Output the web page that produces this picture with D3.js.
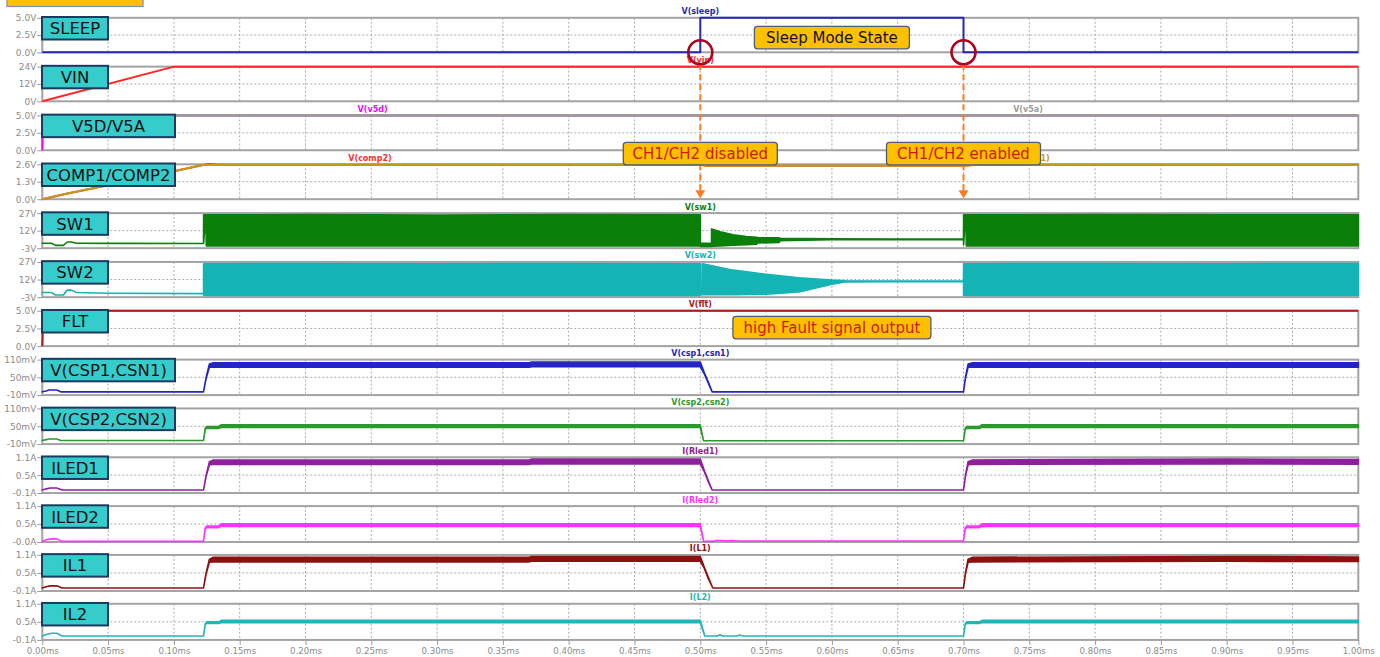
<!DOCTYPE html>
<html>
<head>
<meta charset="utf-8">
<script src="https://cdn.jsdelivr.net/npm/d3@7"></script>
<style>
  html, body { margin: 0; padding: 0; background: #fff; }
  svg { display: block; }
</style>
</head>
<body>
<svg id="chart" width="1380" height="657"></svg>
<script>
// ---- time axis (ms) ----
const timeTicks = [0, 0.05, 0.10, 0.15, 0.20, 0.25, 0.30, 0.35, 0.40, 0.45, 0.50,
                   0.55, 0.60, 0.65, 0.70, 0.75, 0.80, 0.85, 0.90, 0.95, 1.00];
const timeLabels = ["0.00ms", "0.05ms", "0.10ms", "0.15ms", "0.20ms", "0.25ms", "0.30ms",
                    "0.35ms", "0.40ms", "0.45ms", "0.50ms", "0.55ms", "0.60ms", "0.65ms",
                    "0.70ms", "0.75ms", "0.80ms", "0.85ms", "0.90ms", "0.95ms", "1.00ms"];

// ---- panes ----
const panelNames = ["SLEEP", "VIN", "V5D/V5A", "COMP1/COMP2", "SW1", "SW2", "FLT",
                    "V(CSP1,CSN1)", "V(CSP2,CSN2)", "ILED1", "ILED2", "IL1", "IL2"];
const panelDomains = [[0, 5], [0, 24], [0, 5], [0, 2.6], [-3, 27], [-3, 27], [0, 5],
                      [-10, 110], [-10, 110], [-0.1, 1.1], [-0.05, 1.1], [-0.1, 1.1], [-0.1, 1.1]];
const panelTickLabels = [
  ["5.0V", "2.5V", "0.0V"], ["24V", "12V", "0V"], ["5.0V", "2.5V", "0.0V"],
  ["2.6V", "1.3V", "0.0V"], ["27V", "12V", "-3V"], ["27V", "12V", "-3V"],
  ["5.0V", "2.5V", "0.0V"], ["110mV", "50mV", "-10mV"], ["110mV", "50mV", "-10mV"],
  ["1.1A", "0.5A", "-0.1A"], ["1.1A", "0.5A", "-0.0A"], ["1.1A", "0.5A", "-0.1A"],
  ["1.1A", "0.5A", "-0.1A"]
];

// ---- waveforms (time in ms) ----
const sleepT = [0, 0.5, 0.5, 0.7, 0.7, 1.0];
const sleepV = [0, 0, 5, 5, 0, 0];

const vinT = [0, 0.1, 1.0];
const vinV = [0, 24, 24];

const v5dT = [0, 0.0006, 1.0];
const v5dV = [0, 5, 5];
const v5aT = [0.001, 1.0];
const v5aV = [5, 5];

const comp2T = [0, 0.02, 0.05, 0.08, 0.1, 0.122, 0.126, 0.135, 0.5, 0.505, 0.69, 0.7, 0.71, 1.0];
const comp2V = [0, 0.45, 1.04, 1.65, 2.08, 2.55, 2.62, 2.57, 2.57, 2.49, 2.49, 2.5, 2.57, 2.57];
const comp1T = [0, 0.02, 0.05, 0.08, 0.1, 0.122, 0.13, 0.5, 0.505, 0.69, 0.7, 0.71, 1.0];
const comp1V = [0, 0.45, 1.04, 1.65, 2.08, 2.55, 2.57, 2.57, 2.49, 2.49, 2.5, 2.57, 2.57];

// switching nodes: upper / lower envelope of the switching waveform
const sw1T  = [0, 0.007, 0.010, 0.016, 0.019, 0.022, 0.026, 0.05, 0.1225, 0.1226, 0.1232, 0.1245, 0.1246,
               0.2, 0.3, 0.4, 0.5, 0.5001, 0.5085, 0.5086, 0.515, 0.525, 0.535, 0.543, 0.5435, 0.56,
               0.5605, 0.58, 0.6, 0.65, 0.7, 0.7001, 0.7008, 0.702, 0.7021, 0.8, 0.9, 1.0];
const sw1Hi = [1.2, 1.2, -0.6, -0.6, 2.3, 2.3, 1.2, 1.1, 1.0, 25.5, 25.5, 25.5, 25.5,
               25.8, 25.4, 25.8, 25.6, 1.2, 1.2, 13.5, 11, 8.4, 7, 6.4, 6, 5.8,
               5.4, 5.2, 5.0, 4.9, 4.8, 25.5, 25.5, 25.5, 25.5, 25.8, 25.5, 25.6];
const sw1Lo = [1.2, 1.2, -0.6, -0.6, 2.3, 2.3, 1.2, 1.1, 1.0, 1.0, 10, 10, -1,
               -1, -1, -1, -1, -1.5, -1.5, -1.2, -1, -0.5, 0, 0.5, 1.5, 1.8,
               3.4, 3.9, 4.2, 4.3, 4.3, 0, 12, 12, -1, -1, -1, -1];

const sw2T  = [0, 0.007, 0.010, 0.016, 0.019, 0.022, 0.026, 0.05, 0.1225, 0.1226, 0.2, 0.3, 0.4, 0.5,
               0.5004, 0.5005, 0.5017, 0.5018, 0.525, 0.55, 0.575, 0.6, 0.61, 0.65, 0.7, 0.7001,
               0.8, 0.9, 1.0];
const sw2Hi = [0.9, 0.9, -1.2, -1.2, 3.0, 3.0, 0.9, 0.3, 0.0, 25.5, 25.7, 25.4, 25.7, 25.5,
               25.5, 0.5, 0.5, 25.5, 20, 16.5, 13.5, 11.5, 11, 10.8, 10.8, 25.5,
               25.7, 25.5, 25.6];
const sw2Lo = [0.9, 0.9, -1.2, -1.2, 3.0, 3.0, 0.9, 0.3, 0.0, -1.5, -1.5, -1.5, -1.5, -1.5,
               -1.5, 0, 0, -1, -1, -0.5, 1.5, 8, 10, 10.2, 10.2, -1.5,
               -1.5, -1.5, -1.5];

const fltT = [0, 0.0008, 1.0];
const fltV = [0, 5, 5];

// current-sense voltages (mV), ripple band
const cs1T  = [0, 0.003, 0.005, 0.011, 0.014, 0.1225, 0.1245, 0.127, 0.13, 0.37, 0.372, 0.5,
               0.503, 0.506, 0.509, 0.7, 0.7015, 0.7035, 0.707, 1.0];
const cs1Hi = [1, 4, 7, 7, 1, 1, 50, 95, 99, 99, 102, 102, 66, 35, 1, 1, 50, 95, 99, 99];
const cs1Lo = [1, 4, 7, 7, 1, 1, 47, 85, 84, 84, 86, 86, 62, 31, 1, 1, 47, 85, 84, 84];

const cs2T  = [0, 0.003, 0.005, 0.011, 0.014, 0.1225, 0.1238, 0.125, 0.134, 0.136, 0.5,
               0.5025, 0.7, 0.7013, 0.7025, 0.712, 0.714, 1.0];
const cs2Hi = [2, 5, 7, 7, 2, 2, 44, 49, 49, 55, 55, 1, 1, 44, 49, 49, 55, 55];
const cs2Lo = [2, 5, 7, 7, 2, 2, 40, 43, 43, 46, 46, 1, 1, 40, 43, 43, 46, 46];

// LED and inductor currents (A), ripple band
const led1T  = [0, 0.003, 0.006, 0.011, 0.015, 0.1225, 0.1245, 0.127, 0.13, 0.37, 0.372, 0.5,
                0.503, 0.506, 0.509, 0.7, 0.7015, 0.7035, 0.707, 0.9, 1.0];
const led1Hi = [0, 0.04, 0.07, 0.07, 0, 0, 0.5, 0.95, 1.01, 1.01, 1.04, 1.04,
                0.66, 0.33, 0, 0, 0.5, 0.95, 1.01, 1.04, 1.02];
const led1Lo = [0, 0.04, 0.07, 0.07, 0, 0, 0.47, 0.85, 0.86, 0.86, 0.88, 0.88,
                0.62, 0.29, 0, 0, 0.47, 0.85, 0.86, 0.88, 0.87];

const led2T  = [0, 0.003, 0.007, 0.011, 0.015, 0.1225, 0.1238, 0.125, 0.134, 0.136, 0.5,
                0.5025, 0.51, 0.512, 0.516, 0.52, 0.524, 0.53, 0.6, 0.7,
                0.7013, 0.7025, 0.712, 0.714, 1.0];
const led2Hi = [-0.03, 0.02, 0.05, 0.05, -0.03, -0.03, 0.4, 0.46, 0.46, 0.53, 0.53,
                -0.03, -0.03, 0.0, 0.0, -0.02, 0.0, -0.02, -0.02, -0.02,
                0.4, 0.46, 0.46, 0.53, 0.53];
const led2Lo = [-0.03, 0.02, 0.05, 0.05, -0.03, -0.03, 0.36, 0.41, 0.41, 0.45, 0.45,
                -0.03, -0.03, 0.0, 0.0, -0.02, 0.0, -0.02, -0.02, -0.02,
                0.36, 0.41, 0.41, 0.45, 0.45];

const il1T  = [0, 0.003, 0.006, 0.011, 0.015, 0.1225, 0.1245, 0.127, 0.13, 0.37, 0.372, 0.5,
               0.503, 0.506, 0.5095, 0.7, 0.7015, 0.7035, 0.707, 0.9, 1.0];
const il1Hi = [0, 0.04, 0.07, 0.07, 0, 0, 0.5, 0.96, 1.02, 1.02, 1.05, 1.05,
               0.7, 0.36, 0, 0, 0.5, 0.96, 1.02, 1.05, 1.03];
const il1Lo = [0, 0.04, 0.07, 0.07, 0, 0, 0.47, 0.86, 0.87, 0.87, 0.89, 0.89,
               0.66, 0.32, 0, 0, 0.47, 0.86, 0.87, 0.89, 0.88];

const il2T  = [0, 0.003, 0.007, 0.011, 0.015, 0.1225, 0.1238, 0.125, 0.134, 0.136, 0.5,
               0.5034, 0.513, 0.515, 0.517, 0.528, 0.53, 0.532, 0.7,
               0.7013, 0.7025, 0.712, 0.714, 1.0];
const il2Hi = [0.03, 0.08, 0.12, 0.12, 0.03, 0.03, 0.44, 0.5, 0.5, 0.55, 0.55,
               0.03, 0.03, 0.07, 0.03, 0.03, 0.06, 0.03, 0.03,
               0.44, 0.5, 0.5, 0.55, 0.55];
const il2Lo = [0.03, 0.08, 0.12, 0.12, 0.03, 0.03, 0.41, 0.45, 0.45, 0.47, 0.47,
               0.03, 0.03, 0.07, 0.03, 0.03, 0.06, 0.03, 0.03,
               0.41, 0.45, 0.45, 0.47, 0.47];

// ---- trace table (built from the arrays above) ----
const traces = [
  { panel: 0,  t: sleepT, hi: sleepV, color: "#2828b8", label: "V(sleep)",     lx: 0.5 },
  { panel: 1,  t: vinT,   hi: vinV,   color: "#ff2626", label: "V(vin)",       lx: 0.5 },
  { panel: 2,  t: v5dT,   hi: v5dV,   color: "#ff00ff", label: "V(v5d)",       lx: 0.251 },
  { panel: 2,  t: v5aT,   hi: v5aV,   color: "#9c9c9c", label: "V(v5a)",       lx: 0.749, width: 2.8 },
  { panel: 3,  t: comp2T, hi: comp2V, color: "#ff3030", label: "V(comp2)",     lx: 0.249 },
  { panel: 3,  t: comp1T, hi: comp1V, color: "#c8961a", label: "V(comp1)",     lx: 0.749 },
  { panel: 4,  t: sw1T,   hi: sw1Hi,  lo: sw1Lo,  color: "#0a7f0a", label: "V(sw1)",       lx: 0.5 },
  { panel: 5,  t: sw2T,   hi: sw2Hi,  lo: sw2Lo,  color: "#14b4b4", label: "V(sw2)",       lx: 0.5 },
  { panel: 6,  t: fltT,   hi: fltV,   color: "#a81c1c", label: "V(flt)",       lx: 0.5, overline: true },
  { panel: 7,  t: cs1T,   hi: cs1Hi,  lo: cs1Lo,  color: "#2424c4", label: "V(csp1,csn1)", lx: 0.5 },
  { panel: 8,  t: cs2T,   hi: cs2Hi,  lo: cs2Lo,  color: "#2a9a2a", label: "V(csp2,csn2)", lx: 0.5 },
  { panel: 9,  t: led1T,  hi: led1Hi, lo: led1Lo, color: "#8e209e", label: "I(Rled1)",     lx: 0.5 },
  { panel: 10, t: led2T,  hi: led2Hi, lo: led2Lo, color: "#ff33ff", label: "I(Rled2)",     lx: 0.5 },
  { panel: 11, t: il1T,   hi: il1Hi,  lo: il1Lo,  color: "#8c1010", label: "I(L1)",        lx: 0.5 },
  { panel: 12, t: il2T,   hi: il2Hi,  lo: il2Lo,  color: "#22b6b6", label: "I(L2)",        lx: 0.5 }
];

// ---- layout ----
const svg = d3.select("#chart");
const x = d3.scaleLinear().domain([0, 1]).range([42.3, 1358.3]);
const panelTop = i => 17.8 + 48.83 * i;
const panelBottom = i => 52.3 + 48.97 * i;
const yScales = panelNames.map((n, i) =>
  d3.scaleLinear().domain(panelDomains[i]).range([panelBottom(i), panelTop(i)]));

const tickFont = "'DejaVu Sans', sans-serif";
const gridColor = "#ababab";
const frameColor = "#a3a3a3";

// top-left note tab (mostly off the page)
svg.append("rect").attr("x", 7).attr("y", -12).attr("width", 136).attr("height", 18.5)
  .attr("fill", "#ffc000").attr("stroke", "#7f8fa6").attr("stroke-width", 1.2);

// panes: background, grid, frame, y axis
panelNames.forEach((name, i) => {
  const y = yScales[i];
  const top = panelTop(i), bot = panelBottom(i);
  const g = svg.append("g");
  g.append("rect").attr("x", x(0)).attr("y", top).attr("width", x(1) - x(0))
    .attr("height", bot - top).attr("fill", "#fff");
  g.selectAll("line.vg").data(timeTicks.slice(1, -1)).join("line")
    .attr("x1", d => x(d)).attr("x2", d => x(d)).attr("y1", top).attr("y2", bot)
    .attr("stroke", gridColor).attr("stroke-width", 1).attr("stroke-dasharray", "2,2");
  const dom = panelDomains[i];
  const mid = (dom[0] + dom[1]) / 2;
  g.append("line").attr("x1", x(0)).attr("x2", x(1)).attr("y1", y(mid)).attr("y2", y(mid))
    .attr("stroke", gridColor).attr("stroke-width", 1).attr("stroke-dasharray", "2,2");
  g.append("rect").attr("x", x(0)).attr("y", top).attr("width", x(1) - x(0))
    .attr("height", bot - top).attr("fill", "none")
    .attr("stroke", frameColor).attr("stroke-width", 2);

  const axis = d3.axisLeft(y).tickValues([dom[1], mid, dom[0]])
    .tickFormat((d, k) => panelTickLabels[i][k]).tickSize(5).tickPadding(1);
  const ga = g.append("g").attr("transform", `translate(${x(0)},0)`).call(axis);
  ga.select(".domain").remove();
  ga.selectAll(".tick line").attr("stroke", "#9a9a9a");
  ga.selectAll(".tick text").attr("fill", "#8c8c8c").style("font-family", tickFont)
    .style("font-size", "9px");
});

// bottom time axis
const xAxis = d3.axisBottom(x).tickValues(timeTicks)
  .tickFormat((d, k) => timeLabels[k]).tickSize(5).tickPadding(3);
const gx = svg.append("g").attr("transform", `translate(0,${panelBottom(12)})`).call(xAxis);
gx.select(".domain").remove();
gx.selectAll(".tick line").attr("stroke", "#9a9a9a");
gx.selectAll(".tick text").attr("fill", "#8c8c8c").style("font-family", tickFont)
  .style("font-size", "8.6px");

// waveforms
const gTr = svg.append("g");
traces.forEach(tr => {
  const y = yScales[tr.panel];
  const pts = tr.t.map((t, k) => ({ t, hi: tr.hi[k], lo: tr.lo ? tr.lo[k] : tr.hi[k] }));
  if (tr.lo) {
    const area = d3.area().x(d => x(d.t)).y0(d => y(d.lo)).y1(d => y(d.hi));
    gTr.append("path").attr("d", area(pts)).attr("fill", tr.color)
      .attr("stroke", tr.color).attr("stroke-width", 1.6).attr("stroke-linejoin", "round");
  } else {
    const line = d3.line().x(d => x(d.t)).y(d => y(d.hi));
    gTr.append("path").attr("d", line(pts)).attr("fill", "none")
      .attr("stroke", tr.color).attr("stroke-width", tr.width || 2).attr("stroke-linejoin", "round");
  }
});

// pane name boxes
panelNames.forEach((name, i) => {
  const top = panelTop(i) - 0.8;
  const w = name.length > 5 ? 133 : 66;
  svg.append("rect").attr("x", 42).attr("y", top).attr("width", w).attr("height", 22.5)
    .attr("fill", "#36cccc").attr("stroke", "#1c3a60").attr("stroke-width", 2);
  svg.append("text").attr("x", 42 + w / 2).attr("y", top + 17.3)
    .attr("text-anchor", "middle").attr("fill", "#111")
    .style("font-family", "'DejaVu Sans', sans-serif").style("font-size", "16.5px")
    .text(name);
});

// trace names above each pane
traces.forEach(tr => {
  const ty = panelTop(tr.panel) - 3.6;
  const txt = svg.append("text").attr("x", x(tr.lx)).attr("y", ty)
    .attr("text-anchor", "middle").attr("fill", tr.color)
    .style("font-family", "'DejaVu Sans', sans-serif").style("font-size", "8px")
    .style("font-weight", "bold").text(tr.label);
  if (tr.overline) {
    const node = txt.node();
    const a = node.getExtentOfChar(2), b = node.getExtentOfChar(4);
    svg.append("line").attr("x1", a.x).attr("x2", b.x + b.width)
      .attr("y1", a.y + 0.6).attr("y2", a.y + 0.6)
      .attr("stroke", tr.color).attr("stroke-width", 0.9);
  }
});

// sleep entry / exit markers and arrows
const markTimes = [0.5, 0.7];
const gAnn = svg.append("g");
markTimes.forEach(t => {
  const cx = x(t), cy = yScales[0](0);
  const tipY = panelBottom(3) - 1;
  gAnn.append("line").attr("x1", cx).attr("x2", cx).attr("y1", cy + 12).attr("y2", tipY - 6)
    .attr("stroke", "#ff7a1c").attr("stroke-width", 2).attr("stroke-dasharray", "6,4");
  gAnn.append("path")
    .attr("d", `M${cx - 5},${tipY - 8} L${cx + 5},${tipY - 8} L${cx},${tipY} Z`)
    .attr("fill", "#ff7a1c");
  gAnn.append("circle").attr("cx", cx).attr("cy", cy).attr("r", 12)
    .attr("fill", "none").attr("stroke", "#b0001c").attr("stroke-width", 2.6);
});

// callout boxes
function callout(tCenter, yTop, w, text, color) {
  const cx = x(tCenter);
  gAnn.append("rect").attr("x", cx - w / 2).attr("y", yTop).attr("width", w).attr("height", 22.5)
    .attr("rx", 3).attr("fill", "#ffc000").attr("stroke", "#4d5d78").attr("stroke-width", 1.3);
  gAnn.append("text").attr("x", cx).attr("y", yTop + 16.3).attr("text-anchor", "middle")
    .attr("fill", color).style("font-family", "'DejaVu Sans', sans-serif")
    .style("font-size", "15px").text(text);
}
callout(0.6, panelTop(0) + 8.5, 155, "Sleep Mode State", "#111");
callout(0.5, panelTop(3) - 22, 154, "CH1/CH2 disabled", "#cc1a00");
callout(0.7, panelTop(3) - 22, 154, "CH1/CH2 enabled", "#cc1a00");
callout(0.6, panelTop(6) + 5.5, 198, "high Fault signal output", "#cc1a00");
</script>
</body>
</html>
